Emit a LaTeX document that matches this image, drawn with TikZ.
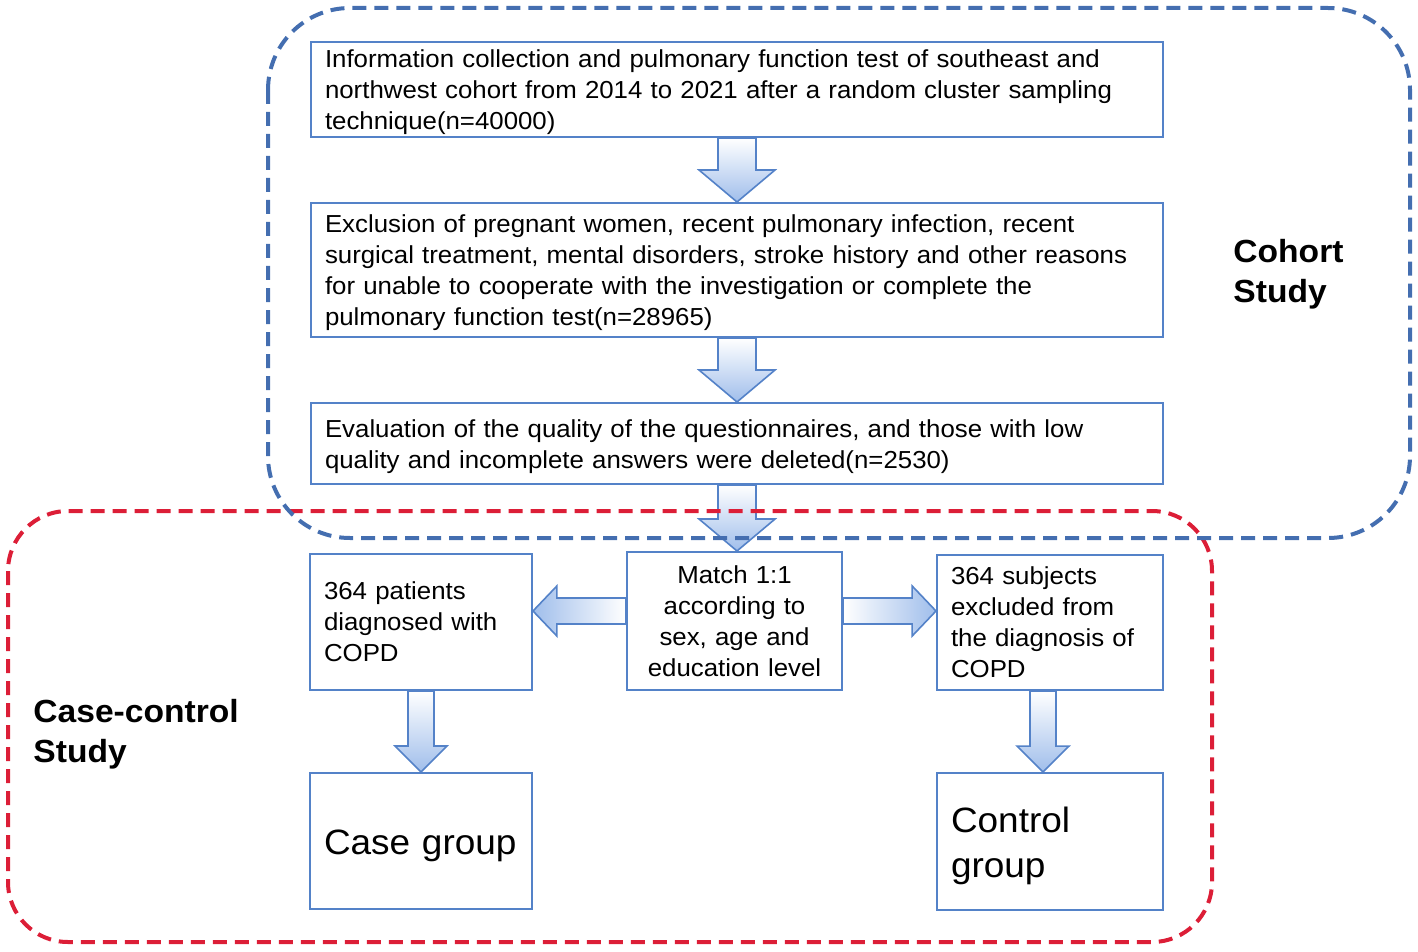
\documentclass[tikz,border=0pt]{standalone}
\usepackage{fontspec}
\setmainfont{Liberation Sans}[FakeStretch=1.05]
\usetikzlibrary{calc}
\definecolor{boxblue}{RGB}{84,130,200}
\definecolor{cohortblue}{RGB}{68,110,176}
\definecolor{casered}{RGB}{220,30,55}
\definecolor{arrowblue}{RGB}{160,190,235}
\tikzstyle{box} = [%
					draw = boxblue,
					line width = 1pt,
					fill = white,
					inner xsep = 7pt, inner ysep = 0pt,
					align = left,
					font = \fontsize{12.3}{15.5}\selectfont
					]
\tikzstyle{bigbox} = [%
					box,
					execute at begin node = {\rule{0pt}{12pt}}
					]
\tikzstyle{groupbox} = [%
					box,
					font = \fontsize{17.6}{22.5}\selectfont,
					execute at begin node = {\rule{0pt}{17pt}}
					]
\tikzstyle{fatarrow} = [%
					draw = boxblue,
					line width = 0.8pt,
					line join = miter
					]
\tikzstyle{region} = [%
					line width = 2pt,
					dash pattern = on 7pt off 4pt
					]
\tikzstyle{title} = [%
					inner sep = 0pt,
					anchor = north west,
					align = left,
					font = \fontsize{16}{20}\selectfont\bfseries
					]
% block arrows: [shading]{tail}{tip}{shaft half width}{head half width}{head length}
\newcommand{\fatdown}[6][]{%
	\draw[fatarrow, top color=white, bottom color=arrowblue, #1] let \p1=(#2), \p2=(#3), \p3=($(#3)!#6!(#2)$) in
		(\x1-#4,\y1) -- (\x1-#4,\y3) -- (\x1-#5,\y3) -- (\x1,\y2) -- (\x1+#5,\y3) -- (\x1+#4,\y3) -- (\x1+#4,\y1) -- cycle;}
\newcommand{\fatside}[6][]{%
	\draw[fatarrow, #1] let \p1=(#2), \p2=(#3), \p3=($(#3)!#6!(#2)$) in
		(\x1,\y1+#4) -- (\x3,\y1+#4) -- (\x3,\y1+#5) -- (\x2,\y1) -- (\x3,\y1-#5) -- (\x3,\y1-#4) -- (\x1,\y1-#4) -- cycle;}

\begin{document}
\begin{tikzpicture}[x=0.5pt, y=-0.5pt]
		\useasboundingbox (0,0) rectangle (1418,952);
		
		% Nodes
		%% Cohort study
		\node[bigbox, text width=412pt, minimum height=47.5pt] (info) at (737,89.5) {Information collection and pulmonary function test of southeast and\\northwest cohort from 2014 to 2021 after a random cluster sampling\\technique(n=40000)};
		\node[bigbox, text width=412pt, minimum height=67pt] (excl) at (737,270) {Exclusion of pregnant women, recent pulmonary infection, recent\\surgical treatment, mental disorders, stroke history and other reasons\\for unable to cooperate with the investigation or complete the\\pulmonary function test(n=28965)};
		\node[bigbox, text width=412pt, minimum height=40.5pt] (eval) at (737,443.5) {Evaluation of the quality of the questionnaires, and those with low\\quality and incomplete answers were deleted(n=2530)};
		%% Case-control study
		\node[box, align=center, text width=93.5pt, minimum height=69pt] (match) at (734.5,621) {Match 1:1\\according to\\sex, age and\\education level};
		\node[box, text width=97pt, minimum height=68pt] (copd) at (421,622) {364 patients\\diagnosed with\\COPD};
		\node[box, text width=99pt, minimum height=67.5pt] (nocopd) at (1050,622.5) {364 subjects\\excluded from\\the diagnosis of\\COPD};
		\node[groupbox, text width=97pt, minimum height=68pt] (case) at (421,841) {Case~group};
		\node[groupbox, text width=99pt, minimum height=68.5pt] (control) at (1050,841.5) {Control\\group};
		
		%% Labels
		\node[title] (cohort) at (1233,239) {Cohort\\Study};
		\node[title] (casecontrol) at (33,699) {Case-control\\Study};
		
		% Coordinates
		\coordinate (m1) at ($(match.west)+(0,-10)$);
		\coordinate (m2) at ($(match.east)+(0,-10)$);
		\coordinate (c1) at ($(nocopd.south)+(-7,0)$);
		
		% Arrows
		\fatdown{info.south}{excl.north}{9.5pt}{19pt}{16pt}
		\fatdown{excl.south}{eval.north}{9.5pt}{19pt}{16pt}
		\fatdown{eval.south}{match.north}{9.5pt}{19pt}{16pt}
		\fatside[left color=arrowblue, right color=white]{m1}{copd.east}{6.5pt}{12.5pt}{12pt}
		\fatside[left color=white, right color=arrowblue]{m2}{nocopd.west}{6.5pt}{12.5pt}{12pt}
		\fatdown{copd.south}{case.north}{6.5pt}{13pt}{13pt}
		\fatdown{c1}{control.north}{6.5pt}{13pt}{13pt}
		
		% Dashed regions
		\draw[region, casered, rounded corners=30pt] (8,511) rectangle (1212,942);
		\draw[region, cohortblue, rounded corners=41pt] (268,8) rectangle (1410,538);
	\end{tikzpicture}
\end{document}
